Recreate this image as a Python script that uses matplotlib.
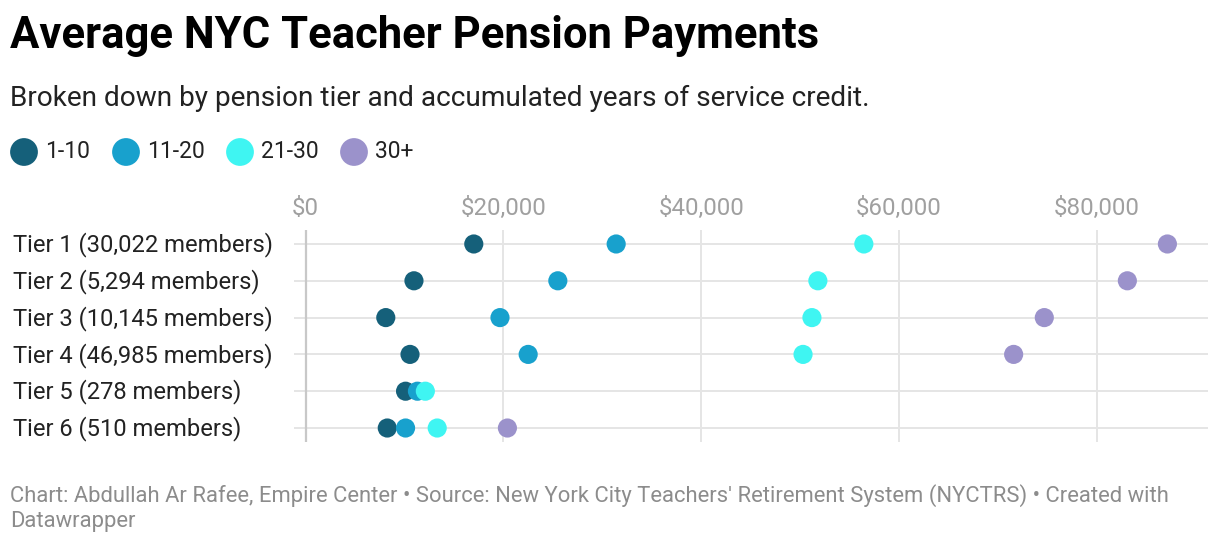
import numpy as np
import matplotlib.pyplot as plt
import matplotlib.transforms as mtransforms

# data (average pension, $)
tiers = ["Tier 1 (30,022 members)", "Tier 2 (5,294 members)", "Tier 3 (10,145 members)",
         "Tier 4 (46,985 members)", "Tier 5 (278 members)", "Tier 6 (510 members)"]
groups = ["1-10", "11-20", "21-30", "30+"]
yrs_1_10 = [17000, 10950, 8100, 10550, 10100, 8250]
yrs_11_20 = [31400, 25500, 19650, 22500, 11300, 10100]
yrs_21_30 = [56450, 51800, 51200, 50300, 12100, 13300]
yrs_30_plus = [87150, 83100, 74700, 71600, np.nan, 20400]
xticks = [0, 20000, 40000, 60000, 80000]
xtick_labels = ["$0", "$20,000", "$40,000", "$60,000", "$80,000"]

colors = ["#15607a", "#18a1cd", "#3ff5f2", "#9b92cb"]
plt.rcParams['font.family'] = ['Roboto', 'DejaVu Sans']

W, H = 1220, 544
fig = plt.figure(figsize=(W / 100, H / 100), dpi=100)

# overlay in pixel coords for title, legend, footer
ov = fig.add_axes([0, 0, 1, 1])
ov.set_xlim(0, W)
ov.set_ylim(H, 0)
ov.axis("off")

ov.text(10, 36, "Average NYC Teacher Pension Payments", fontsize=31.4, fontweight="bold",
        color="#000000", va="center", ha="left")
ov.text(10, 98, "Broken down by pension tier and accumulated years of service credit.",
        fontsize=20.2, color="#222222", va="center", ha="left")

# legend
leg_x = [24, 126, 240, 354]
for gx, g, c in zip(leg_x, groups, colors):
    ov.scatter([gx], [152], s=400, color=c, edgecolors="none")
    ov.text(gx + 21, 152, g, fontsize=16.5, color="#222222", va="center", ha="left")

ov.text(10, 508, "Chart: Abdullah Ar Rafee, Empire Center \u2022 Source: New York City Teachers' "
        "Retirement System (NYCTRS) \u2022 Created with\nDatawrapper",
        fontsize=15.8, color="#8c8c8c", va="center", ha="left", linespacing=1.3)

# main chart
ax = fig.add_axes([294 / W, 1 - 442 / H, 914 / W, 212 / H])
ax.patch.set_alpha(0)
ax.set_xlim((294 - 305.7) / 9.8875 * 1000, (1208 - 305.7) / 9.8875 * 1000)
ax.set_ylim(len(tiers) - 1 + 0.38, -0.38)
for s in ax.spines.values():
    s.set_visible(False)

y = np.arange(len(tiers))
for yy in y:
    ax.axhline(yy, color="#e5e5e5", lw=1.4, zorder=1)
for xt in xticks:
    ax.axvline(xt, color="#c8c8c8" if xt == 0 else "#e5e5e5", lw=1.6 if xt == 0 else 1.4, zorder=1)

series = [yrs_1_10, yrs_11_20, yrs_21_30, yrs_30_plus]
for vals, c, g in zip(series, colors, groups):
    ax.scatter(vals, y, s=190, color=c, edgecolors="none", zorder=3, label=g)

ax.xaxis.tick_top()
ax.set_xticks(xticks)
ax.set_xticklabels(xtick_labels, fontsize=17.3, color="#a0a0a0")
ax.tick_params(axis="x", length=0, pad=7)
ax.set_yticks([])

trans = mtransforms.blended_transform_factory(fig.transFigure, ax.transData)
for yy, t in zip(y, tiers):
    ax.text(13 / W, yy + 0.02, t, transform=trans, fontsize=17.1, color="#222222", va="center", ha="left")

fig.savefig("out.png", dpi=100)
